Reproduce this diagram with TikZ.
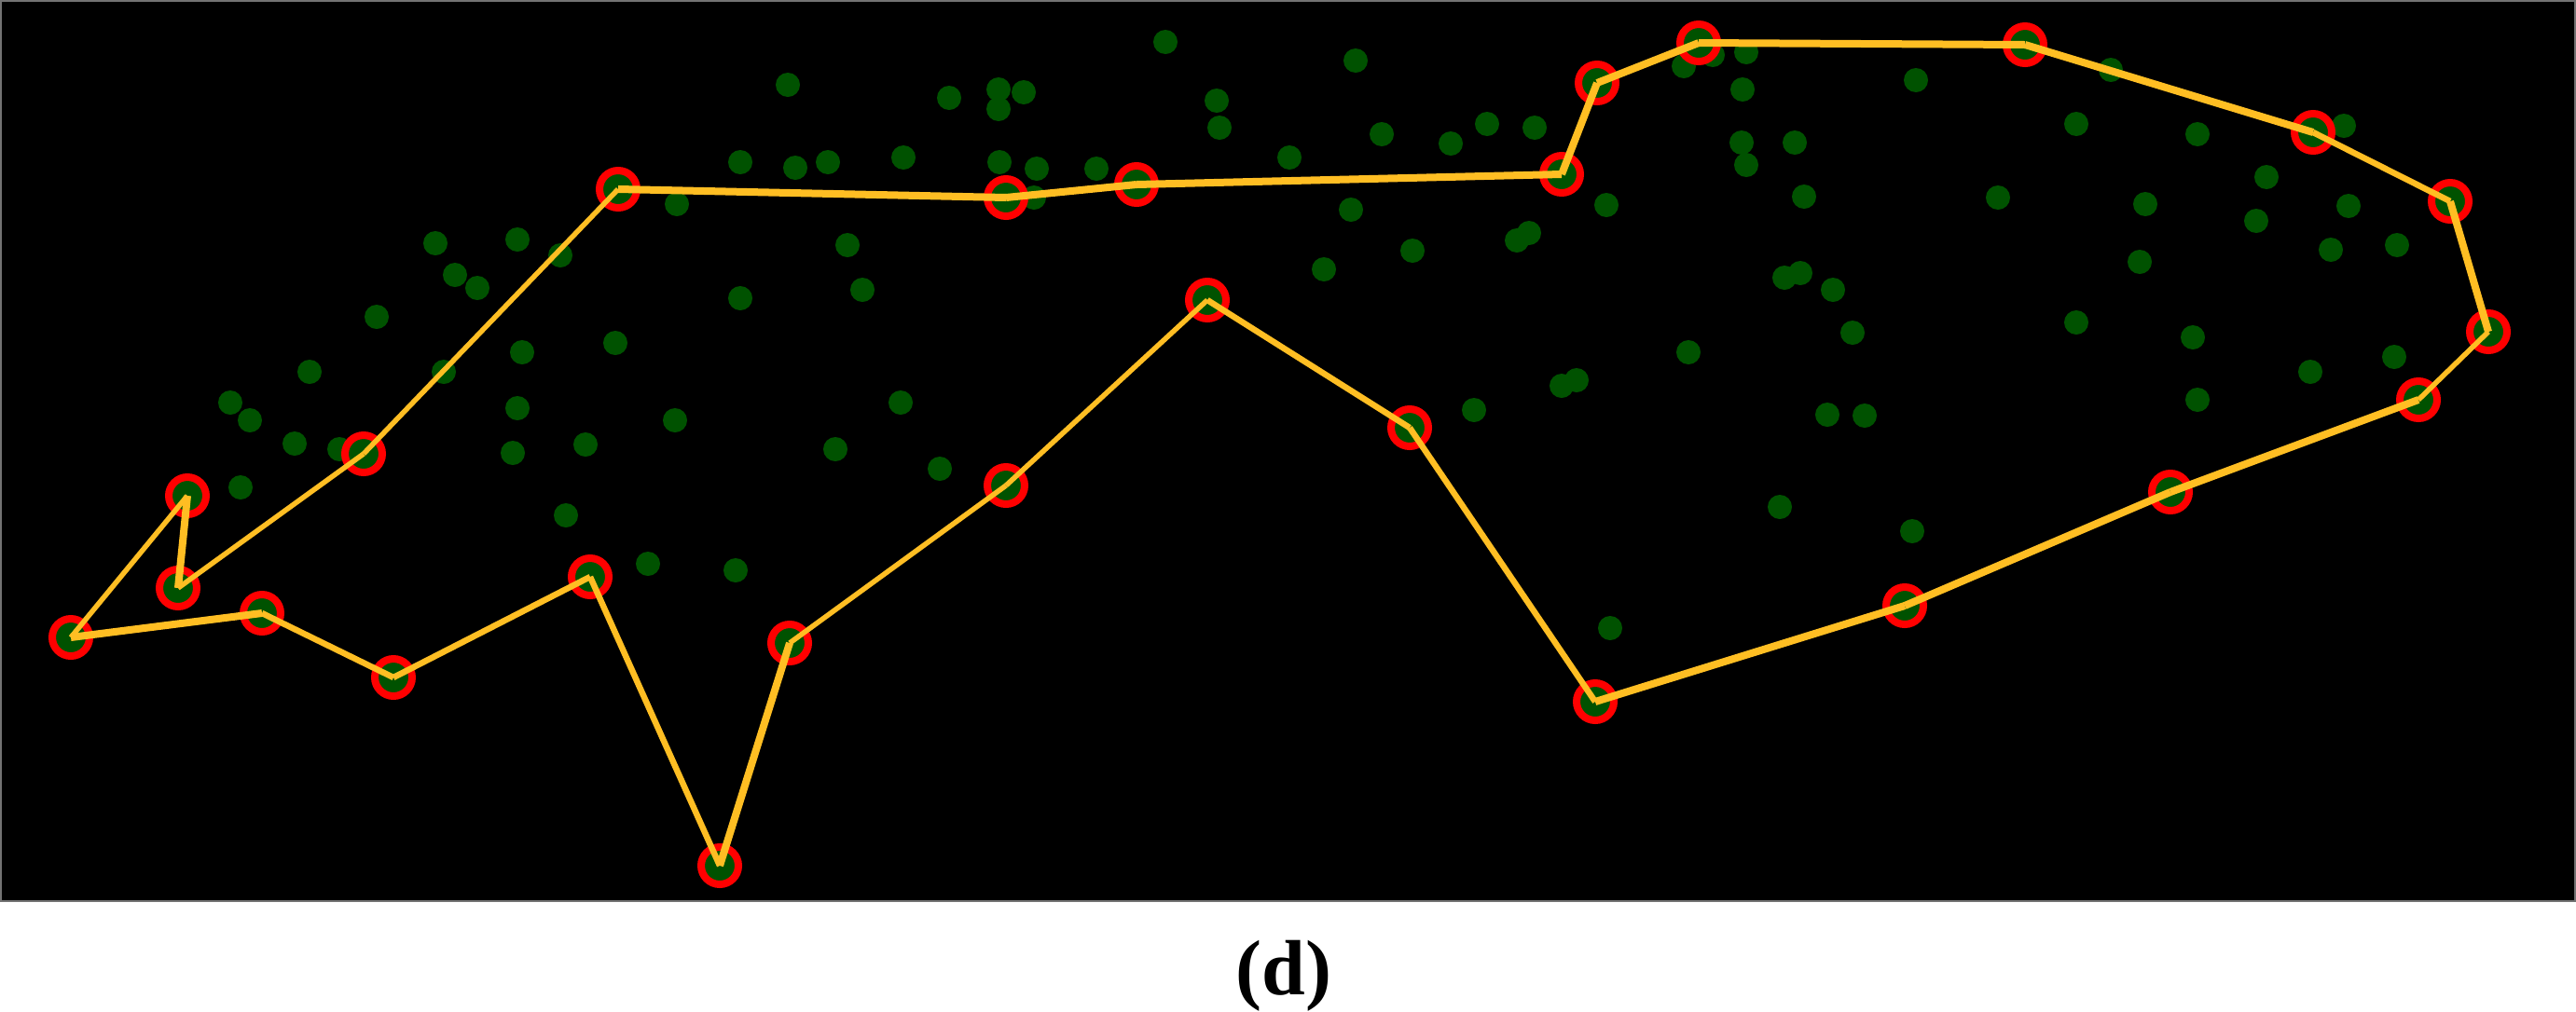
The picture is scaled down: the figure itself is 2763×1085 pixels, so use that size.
\documentclass[tikz,border=0pt]{standalone}
\usepackage{fontspec}
\setmainfont{Liberation Serif}
\definecolor{dotgreen}{RGB}{0,82,0}
\definecolor{edgeyellow}{RGB}{255,190,35}
\definecolor{ringred}{RGB}{255,0,0}
\begin{document}
\begin{tikzpicture}[x=1pt,y=-1pt,
  vtx/.style={circle,draw=ringred,fill=dotgreen,line width=8pt,minimum size=40pt,inner sep=0pt},
  gdot/.style={fill=dotgreen},
  ethick/.style={draw=edgeyellow,line width=8pt},
  emed/.style={draw=edgeyellow,line width=6.5pt},
  ethin/.style={draw=edgeyellow,line width=5.5pt},
  lbl/.style={font=\bfseries\fontsize{84}{100}\selectfont,inner sep=0pt}]
\useasboundingbox (0,0) rectangle (2763,1085);
\fill[white] (0,0) rectangle (2763,1085);
\filldraw[fill=black,draw=black!55,line width=2pt] (1,1) rectangle (2762,967);
% scattered points
\foreach \px/\py in {845/91,794/174,853/180,888/174,969/169,726/219,467/261,555/257,601/274,488/295,512/309,909/263,925/311,794/320,404/340,332/399,560/378,660/368,476/399,247/432,268/451,316/476,555/438,724/451,966/432,364/482,550/486,628/477,896/482,258/523,607/553,695/605,789/612,
1250/45,1454/65,1018/105,1071/96,1098/99,1071/117,1305/108,1308/137,1595/133,1646/137,1482/144,1556/154,1383/169,1072/174,1112/181,1176/181,1109/212,1723/220,1449/225,1627/258,1640/250,1515/269,1420/289,1806/71,1837/59,1873/56,1869/96,1868/153,1873/177,1008/503,1811/378,1675/414,1691/408,1581/440,1727/674,
2055/86,2264/75,1925/153,2227/133,2357/144,2514/135,2431/190,1935/211,2143/212,2301/219,2519/221,2420/237,2500/268,2571/263,2295/281,1914/298,1931/293,1966/311,1987/357,2227/346,2352/362,2478/399,2568/383,2357/429,1960/445,2000/446,1909/544,2051/570}
  \fill[gdot] (\px,\py) circle[radius=13];
% hull vertices
\node[vtx] (A) at (76,684) {};
\node[vtx] (B) at (201,532) {};
\node[vtx] (C) at (191,631) {};
\node[vtx] (D) at (390,487) {};
\node[vtx] (E) at (663,203) {};
\node[vtx] (F) at (1079,212) {};
\node[vtx] (G) at (1219,198) {};
\node[vtx] (H) at (1675,187) {};
\node[vtx] (I) at (1713,89) {};
\node[vtx] (J) at (1822,46) {};
\node[vtx] (K) at (2172,48) {};
\node[vtx] (L) at (2481,142) {};
\node[vtx] (M) at (2628,216) {};
\node[vtx] (N) at (2669,356) {};
\node[vtx] (O) at (2594,429) {};
\node[vtx] (P) at (2328,528) {};
\node[vtx] (Q) at (2043,650) {};
\node[vtx] (R) at (1711,753) {};
\node[vtx] (S) at (1512,459) {};
\node[vtx] (T) at (1295,322) {};
\node[vtx] (U) at (1079,521) {};
\node[vtx] (V) at (847,690) {};
\node[vtx] (W) at (772,929) {};
\node[vtx] (X) at (633,619) {};
\node[vtx] (Y) at (422,727) {};
\node[vtx] (Z) at (281,658) {};
% edges
\draw[ethin] (A.center) -- (B.center);
\draw[ethick] (B.center) -- (C.center);
\draw[ethin] (C.center) -- (D.center);
\draw[ethin] (D.center) -- (E.center);
\draw[ethick] (E.center) -- (F.center);
\draw[ethick] (F.center) -- (G.center);
\draw[ethick] (G.center) -- (H.center);
\draw[ethick] (H.center) -- (I.center);
\draw[ethick] (I.center) -- (J.center);
\draw[ethick] (J.center) -- (K.center);
\draw[ethick] (K.center) -- (L.center);
\draw[emed] (L.center) -- (M.center);
\draw[ethick] (M.center) -- (N.center);
\draw[ethin] (N.center) -- (O.center);
\draw[ethick] (O.center) -- (P.center);
\draw[ethick] (P.center) -- (Q.center);
\draw[ethick] (Q.center) -- (R.center);
\draw[emed] (R.center) -- (S.center);
\draw[emed] (S.center) -- (T.center);
\draw[ethin] (T.center) -- (U.center);
\draw[ethin] (U.center) -- (V.center);
\draw[ethick] (V.center) -- (W.center);
\draw[emed] (W.center) -- (X.center);
\draw[emed] (X.center) -- (Y.center);
\draw[emed] (Y.center) -- (Z.center);
\draw[ethick] (Z.center) -- (A.center);
% caption
\node[lbl] (cap) at (1377,1047) {(d)};
\end{tikzpicture}
\end{document}
